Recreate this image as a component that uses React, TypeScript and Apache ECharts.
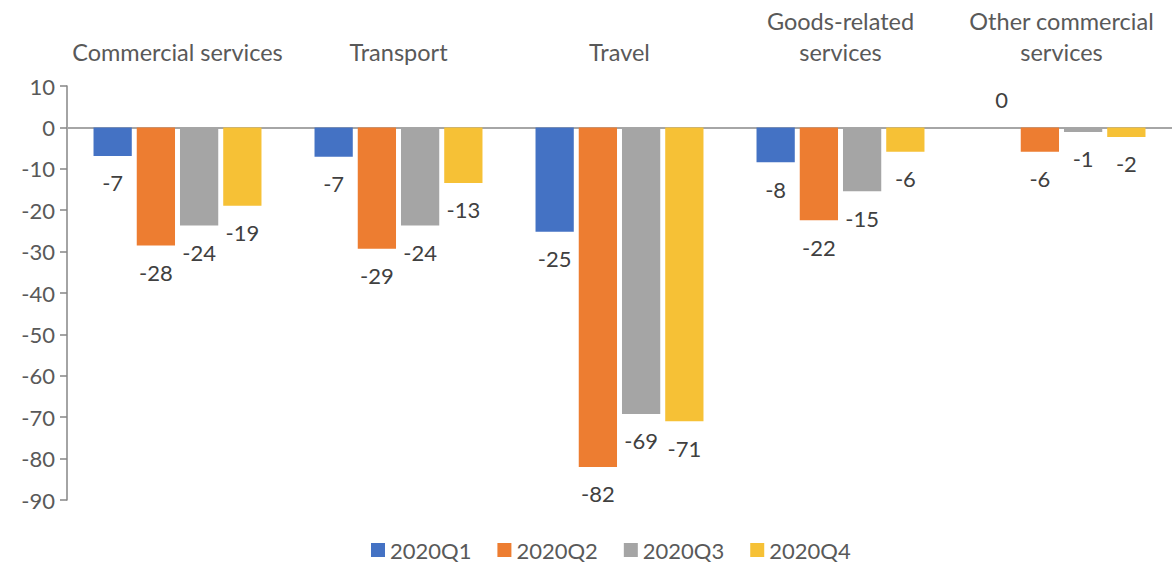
import React, { useEffect, useRef } from "react";
import * as echarts from "echarts";

const categories = [
  "Commercial services",
  "Transport",
  "Travel",
  "Goods-related\nservices",
  "Other commercial\nservices",
];
const seriesNames = ["2020Q1", "2020Q2", "2020Q3", "2020Q4"];
const q1 = [-6.9, -7.1, -25.2, -8.4, 0];
const q2 = [-28.5, -29.3, -82.0, -22.4, -5.9];
const q3 = [-23.7, -23.7, -69.2, -15.4, -1.1];
const q4 = [-18.9, -13.4, -71.0, -5.9, -2.3];
const yTicks = { min: -90, max: 10, interval: 10 };
const colors = ["#4472C4", "#ED7D31", "#A5A5A5", "#F6C136"];

const FONT = "Lato";
const FS = 22;

export default function App() {
  const ref = useRef<HTMLDivElement>(null);
  useEffect(() => {
    document.body.style.margin = "0";
    const chart = echarts.init(ref.current!, null, { renderer: "svg" });
    const all = [q1, q2, q3, q4];
    const labelBase = {
      show: true,
      position: "bottom" as const,
      distance: 16,
      color: "#404040",
      fontSize: FS,
      fontFamily: FONT,
      formatter: (p: any) => String(Math.round(p.value)),
    };
    chart.setOption({
      animation: false,
      textStyle: { fontFamily: FONT },
      color: colors,
      grid: { left: 67, right: 0, top: 86, bottom: 66 },
      legend: {
        data: seriesNames,
        bottom: 0,
        left: 366,
        icon: "rect",
        itemWidth: 14,
        itemHeight: 14,
        itemGap: 26,
        textStyle: { color: "#595959", fontSize: FS, fontFamily: FONT },
      },
      xAxis: [
        {
          type: "category",
          data: categories,
          position: "top",
          axisLine: { show: false, onZero: false },
          axisTick: { show: false },
          axisLabel: {
            color: "#595959",
            fontSize: 23.5,
            fontFamily: FONT,
            lineHeight: 31,
            margin: 19,
            interval: 0,
          },
        },
        {
          type: "category",
          data: categories,
          position: "bottom",
          axisLine: { show: true, onZero: true, lineStyle: { color: "#A6A6A6", width: 2 } },
          axisTick: { show: false },
          axisLabel: { show: false },
        },
      ],
      yAxis: {
        type: "value",
        min: yTicks.min,
        max: yTicks.max,
        interval: yTicks.interval,
        axisLine: { show: true, lineStyle: { color: "#868686", width: 1.5 } },
        axisTick: { show: true, length: 7, lineStyle: { color: "#868686", width: 1.5 } },
        splitLine: { show: false },
        axisLabel: { color: "#595959", fontSize: FS, fontFamily: FONT, margin: 12 },
      },
      series: seriesNames.map((name, i) => ({
        name,
        type: "bar",
        xAxisIndex: 0,
        barCategoryGap: "24%",
        barGap: "13%",
        data: all[i].map((v) =>
          v >= 0
            ? { value: v, label: { position: "top", distance: 17, offset: [5, 0] } }
            : { value: v }
        ),
        label: labelBase,
      })),
    });
    return () => chart.dispose();
  }, []);
  return <div ref={ref} style={{ width: 1172, height: 566 }} />;
}
